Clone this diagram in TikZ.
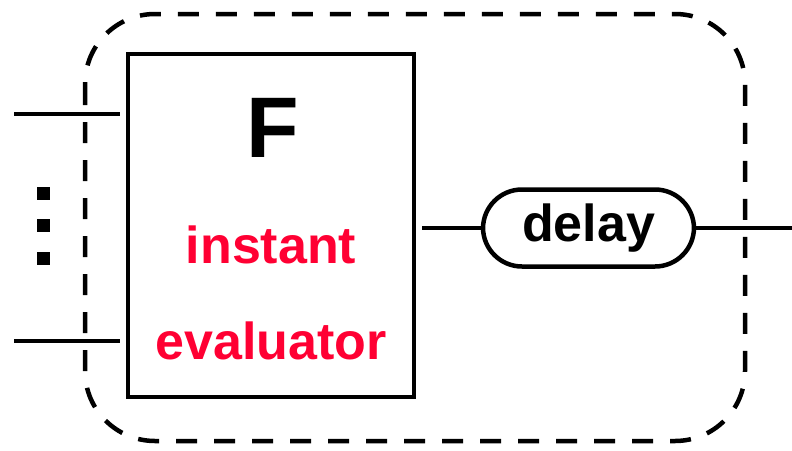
\documentclass[tikz,border=0pt]{standalone}
\usepackage{fontspec}
\setmainfont{Liberation Sans}
\usepackage{tikz}
\usetikzlibrary{calc}
\definecolor{R0}{HTML}{FF0033}
\tikzset{wire/.style={line width=4.5pt},
  evalbox/.style={draw,line width=4.5pt,minimum width=286pt,minimum height=343pt},
  delaybox/.style={draw,line width=4.5pt,rounded corners=39pt,minimum width=211pt,minimum height=77pt,font=\fontsize{52}{52}\bfseries},
  redtext/.style={text=R0,font=\fontsize{52}{52}\bfseries}}

\begin{document}
\begin{tikzpicture}[x=1pt,y=-1pt]
\useasboundingbox (0,0) rectangle (792,450);

\def\lw{4.5pt}
\def\gap{6pt}

% dashed frame
\draw[line width=\lw,dash pattern=on 21pt off 17pt,rounded corners=70pt] (85,14) rectangle (745,441);

% evaluator box
\node[evalbox] (F) at (271,225.5) {};
\node[font=\fontsize{86}{86}\bfseries] (Flabel) at (273,128) {F};
\node[redtext] (inst) at (271,245) {instant};
\node[redtext] (eval) at (271,341) {evaluator};

% delay
\node[delaybox] (delay) at (588.5,228) {delay};

% wires
\coordinate (in1) at (14,114);
\coordinate (in2) at (14,341);
\coordinate (out) at (792,228);
\draw[wire,shorten >=\gap] (in1) -- (F.west |- in1);
\draw[wire,shorten >=\gap] (in2) -- (F.west |- in2);
\draw[wire,shorten <=\gap] (F.east |- delay) -- (delay.west);
\draw[wire] (delay.east) -- (out);

% dots
\foreach \y in {193.5,225.5,258.5}
  \fill (37,\y-6.5) rectangle (50,\y+6.5);

\end{tikzpicture}
\end{document}
